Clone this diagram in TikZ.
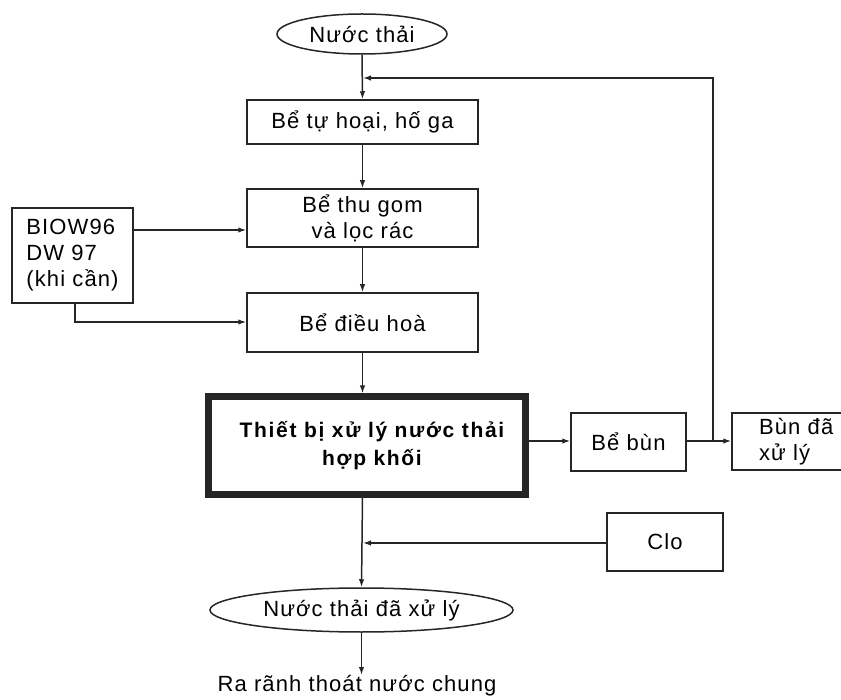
\documentclass[tikz,border=0pt]{standalone}
\usepackage{fontspec}
\setmainfont[LetterSpace=5]{Liberation Sans}
\usetikzlibrary{arrows.meta,shapes.geometric}
\begin{document}
\begin{tikzpicture}[x=1pt,y=-1pt,
  ln/.style={draw=black!85,line width=1.5pt},
  arr/.style={ln,-{Latex[length=8pt,width=5.5pt]}},
  boxst/.style={draw=black!85,line width=1.5pt,rectangle,inner sep=0pt,align=center,
    font=\fontsize{22}{26}\selectfont},
  ell/.style={draw=black!85,line width=1.5pt,ellipse,inner sep=0pt,
    font=\fontsize{22}{26}\selectfont}]
\useasboundingbox (0,0) rectangle (841,700);
\node[ell,minimum width=170pt,minimum height=40pt] (n1) at (362,34) {Nước thải};
\node[boxst,minimum width=231pt,minimum height=44pt] (b1) at (362.5,122) {Bể tự hoại, hố ga};
\node[boxst,minimum width=231pt,minimum height=58pt] (b2) at (362.5,218) {Bể thu gom\\và lọc rác};
\node[boxst,minimum width=121pt,minimum height=95pt,align=left] (bio) at (72.5,255.5) {BIOW96\\DW 97\\(khi cần)};
\node[boxst,minimum width=231pt,minimum height=59pt] (b3) at (362.5,322.5) {Bể điều hoà};
\node[boxst,line width=7pt,minimum width=317pt,minimum height=97pt,
  font=\fontsize{21}{28}\selectfont\bfseries\addfontfeatures{LetterSpace=8}] (main) at (366.5,445.5) {\hspace*{11pt}Thiết bị xử lý nước thải\\\hspace*{11pt}hợp khối};
\node[boxst,minimum width=115pt,minimum height=58pt] (bun) at (628.5,442) {Bể bùn};
\node[boxst,text width=110pt,minimum height=57pt,align=left] (bxl) at (787,441.5) {\hspace*{27pt}Bùn đã\\\hspace*{27pt}xử lý};
\node[boxst,minimum width=116pt,minimum height=58pt] (clo) at (665,542) {Clo};
\node[ell,minimum width=303pt,minimum height=44pt] (n2) at (361.5,610) {Nước thải đã xử lý};
\node[inner sep=0pt,font=\fontsize{22}{26}\selectfont,anchor=north] (out) at (357,675) {Ra rãnh thoát nước chung};
\coordinate (fbtop) at (713,78);
\coordinate (fbjoin) at (363,78);
\coordinate (fbbot) at (713,441);
\coordinate (clojoin) at (363,543);
\coordinate (biocorner) at (75,322);
% main axis
\draw[arr] (n1.south) -- (b1.north);
\draw[arr] (b1.south) -- (b2.north);
\draw[arr] (b2.south) -- (b3.north);
\draw[arr] (b3.south) -- (b3.south |- main.north);
\draw[arr] (b3.south |- main.south) -- (n2.north);
\draw[arr] (n2.south) -- (n2.south |- out.north);
% additives
\draw[arr] (bio.east |- 0,230) -- (b2.west |- 0,230);
\draw[arr] (biocorner |- bio.south) -- (biocorner) -- (b3.west |- biocorner);
% sludge
\draw[arr] (main.east |- fbbot) -- (bun.west |- fbbot);
\draw[arr] (bun.east |- fbbot) -- (bxl.west |- fbbot);
\draw[arr] (fbbot) -- (fbtop) -- (fbjoin);
% chlorine
\draw[arr] (clo.west |- clojoin) -- (clojoin);
\end{tikzpicture}
\end{document}
